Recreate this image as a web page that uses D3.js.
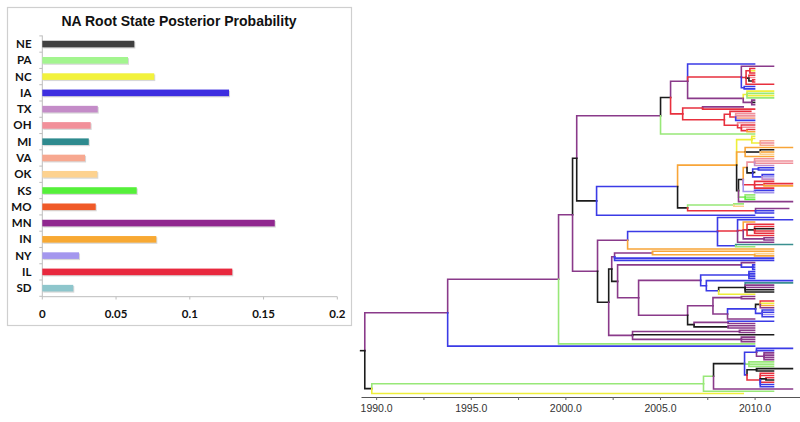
<!DOCTYPE html>
<html><head><meta charset="utf-8">
<script src="https://cdn.jsdelivr.net/npm/d3@7"></script>
<style>body{margin:0;background:#fff}svg{display:block}</style>
</head><body>
<svg id="c" width="800" height="422"></svg>
<script>
// ---------- bar chart data ----------
const categories = ["NE","PA","NC","IA","TX","OH","MI","VA","OK","KS","MO","MN","IN","NY","IL","SD"];
const probabilities = [0.0624,0.0581,0.0759,0.1266,0.0376,0.0328,0.0315,0.029,0.0373,0.064,0.0362,0.1576,0.0773,0.0249,0.1288,0.021];
const barColors = ["#404040","#a3f58f","#f2f23c","#3d2ee0","#c48cc8","#f2909a","#2e8a8e","#f7a890","#fdd28f","#55f03a","#f05a28","#90278f","#f8a933","#a497ee","#e8283e","#8ec6cc"];
const xTicks = [0,0.05,0.1,0.15,0.2];
const xTickLabels = ["0","0.05","0.1","0.15","0.2"];
const chartTitle = "NA Root State Posterior Probability";

// ---------- tree data ----------
// state letter of each branch, and the state it stands for
const stateLetters = ["M","I","L","K","A","G","Y","O","P","T","V","W","N","X","R","S"];
const stateNames   = ["MN","IA","IL","NE","PA","KS","NC","IN","OH","MI","VA","OK","NY","TX","MO","SD"];
const treeColors   = ["#8a3a8a","#3b3be6","#e8303e","#1c1c1c","#98e878","#5ef040","#eeee3a","#f8a538","#f0909a","#3a9090","#f7a890","#fdd28f","#a497ee","#c48cc8","#f05a28","#8ec6cc"];
const rootStubStart = 1989.18;
const yearTicks = [1990,1992.5,1995,1997.5,2000,2002.5,2005,2007.5,2010];
// Newick-like topology: child list, then branch state letter and node date (year)
const treeNewick = [
"(",
 "(",
  "(",
   "(",
    "(",
     "(",
      "(",
       "(I:2010,",
        "(M:2011,((L:2010,Y:2010,L:2010)L:2009.75,(L:2010,P:2010,(L:2010,L:2010)K:2009.9)K:2009.7,L:2011)L:2009.55,(I:2010,I:2010)I:2009.45)L:2009.3,",
        "((Y:2011,A:2011,Y:2011,A:2011)Y:2009.6,(M:2010,K:2010,M:2010)M:2009.85)M:2009.4",
       ")M:2006.46,",
       "((M:2009.4,L:2010)L:2007.25,((L:2009.8,(P:2010,P:2010,V:2010,I:2010)L:2009.0)L:2008.7,(P:2010,(L:2010,P:2010,(L:2010,O:2010)L:2009.6)L:2009.3)L:2009.1)L:2008.4)L:2006.2",
      ")K:2005.56,",
      "A:2010",
     ")M:2005.03,",
     "(",
      "(",
       "((Y:2010,Y:2010,(V:2011,P:2011,V:2011)Y:2010.3)Y:2009.85,",
        "(O:2012,(K:2011,O:2011,W:2011)K:2010.3,O:2011)O:2009.5,",
        "((((P:2011,P:2012,P:2012,X:2011)P:2010.0,((I:2011,I:2011)I:2010.2,K:2010,(I:2011,N:2011,X:2011)I:2010.4)K:2009.9)O:2009.6,",
          "(L:2011,(L:2012,O:2012)L:2010.5,L:2011)L:2010.0,(I:2011,N:2011)N:2010.0)K:2009.4,",
         "(A:2010,A:2010,G:2010)A:2009.5,M:2012)K:2009.15",
       ")O:2009.05,",
       "((A:2009.4,W:2009.4)A:2008.9,(M:2011.8,I:2011,I:2011)L:2010.05)K:2006.46",
      ")I:2005.93,",
      "I:2010",
     ")K:2001.65",
    ")K:2000.6,",
    "(",
     "(",
      "(I:2011,(I:2012,(O:2010,(L:2011,(L:2011,K:2011,L:2011,L:2011)K:2010.0,L:2011)L:2009.6,(M:2011,M:2011)M:2010.5)L:2009.4,M:2011)L:2009.1,(T:2012,A:2010)I:2009.0)I:2008.04,",
      "O:2011",
     ")M:2003.29,",
     "(",
      "(",
       "((O:2011,(W:2011,O:2011)O:2010)M:2004.6,I:2011,I:2011)M:2002.6,",
       "(",
        "(M:2010,(I:2010,I:2010,I:2010)I:2009.9)M:2009.3,",
        "(",
         "((I:2010,I:2010,I:2010,I:2010)I:2009.7,(I:2012,((T:2012,M:2011,M:2011,K:2011,K:2011)K:2009.5,Y:2010)I:2008.1)I:2007.45)M:2007.15,",
         "(((M:2010,M:2010)M:2009.3,(((L:2011,Y:2011,O:2011,M:2011)K:2010.3,(I:2011,I:2011,N:2011,I:2011)I:2010.4)I:2010.05,M:2010)M:2008.57)M:2007.8,",
          "((I:2011,M:2010)M:2008.6,(M:2010,M:2010)K:2008.6)K:2006.8)M:2006.46",
        ")M:2003.87",
       ")K:2002.76",
      ")K:2002.45,",
      "((M:2010,M:2010)M:2009.2,K:2011,(M:2010,M:2010,M:2010)M:2009.3)M:2003.55",
     ")K:2002.29",
    ")M:2001.7",
   ")M:2000.38,",
   "A:2010",
  ")M:1999.64,",
  "I:2010",
 ")M:1993.78,",
 "(",
  "(",
   "(((I:2012,I:2011,(M:2011,M:2011,M:2011,M:2011)M:2010.5)I:2010.1,(A:2011,A:2011,A:2011)A:2009.7,",
     "((K:2012,K:2011)K:2010.1,(L:2011,L:2011,(L:2011,K:2011)K:2010.6,L:2011,I:2011,I:2011)L:2010.3)I:2009.6)K:2009.47,",
    "M:2012)A:2007.83,",
   "A:2011",
  ")A:2007.3,",
  "Y:2009.4",
 ")K:1989.77",
")K:1989.4"
].join("");

// ---------- parse ----------
function parseTree(s){
  let i=0;
  function node(){
    const n={};
    if(s[i]==="("){
      i++; n.children=[node()];
      while(s[i]===","){ i++; n.children.push(node()); }
      i++; // ')'
    }
    n.c=s[i++]; i++; // letter, ':'
    const j=i; while(i<s.length && /[0-9.]/.test(s[i])) i++;
    n.t=+s.slice(j,i);
    return n;
  }
  return node();
}
const colorOf = d3.scaleOrdinal(stateLetters, treeColors);

const svg = d3.select("#c");

// ---------- bar chart ----------
svg.append("rect").attr("x",7.5).attr("y",7.5).attr("width",344).attr("height",318)
  .attr("fill","#fff").attr("stroke","#cfcfcf").attr("stroke-width",1.2);
svg.append("text").attr("x",179).attr("y",26).attr("text-anchor","middle")
  .attr("font-family","'Liberation Sans',Arial,sans-serif").attr("font-weight","bold")
  .attr("font-size",14).attr("fill","#111").text(chartTitle);

const bx = d3.scaleLinear().domain([0,0.2]).range([42.3,337.3]);
const by = d3.scaleBand().domain(categories).range([35.9,296.3]);
const bg = svg.append("g");
// axis lines
bg.append("line").attr("x1",bx(0)).attr("x2",bx(0)).attr("y1",35.5).attr("y2",296.7).attr("stroke","#bdbdbd").attr("stroke-width",1);
bg.append("line").attr("x1",bx(0)).attr("x2",bx(0.2)).attr("y1",296.7).attr("y2",296.7).attr("stroke","#bdbdbd").attr("stroke-width",1);
// y tick marks at band boundaries
const bounds = categories.map(c=>by(c)).concat([by.range()[1]]);
bg.selectAll(".yt").data(bounds).join("line").attr("x1",bx(0)-3).attr("x2",bx(0))
  .attr("y1",d=>d).attr("y2",d=>d).attr("stroke","#bdbdbd");
bg.selectAll(".xt").data(xTicks).join("line").attr("x1",d=>bx(d)).attr("x2",d=>bx(d))
  .attr("y1",296.7).attr("y2",299.5).attr("stroke","#bdbdbd");
// shadows + bars
const barH = 6.6;
bg.selectAll(".sh").data(probabilities).join("rect")
  .attr("x",bx(0)+1).attr("y",(d,i)=>by(categories[i])+by.bandwidth()/2-barH/2+1.2)
  .attr("width",d=>bx(d)-bx(0)).attr("height",barH).attr("fill","#d8d8d8");
bg.selectAll(".bar").data(probabilities).join("rect")
  .attr("x",bx(0)).attr("y",(d,i)=>by(categories[i])+by.bandwidth()/2-barH/2)
  .attr("width",d=>bx(d)-bx(0)).attr("height",barH).attr("fill",(d,i)=>barColors[i]);
bg.selectAll(".cl").data(categories).join("text")
  .attr("x",31.5).attr("y",d=>by(d)+by.bandwidth()/2+4)
  .attr("text-anchor","end").attr("font-family","Lato,'Liberation Sans',sans-serif")
  .attr("font-weight","bold").attr("font-size",11.5).attr("fill","#111").text(d=>d);
bg.selectAll(".xl").data(xTicks).join("text")
  .attr("x",d=>bx(d)).attr("y",318).attr("text-anchor","middle")
  .attr("font-family","Lato,'Liberation Sans',sans-serif")
  .attr("font-weight","bold").attr("font-size",11.5).attr("fill","#111").text((d,i)=>xTickLabels[i]);

// ---------- tree ----------
const root = d3.hierarchy(parseTree(treeNewick));
const leaves = root.leaves();
const ty = d3.scaleLinear().domain([0,leaves.length-1]).range([64,393.5]);
const tx = d3.scaleLinear().domain([1989.2,2012.4]).range([361,800]);
leaves.forEach((l,i)=>{ l.yy = ty(i); });
root.eachAfter(n=>{ if(n.children){ n.yy=(n.children[0].yy+n.children[n.children.length-1].yy)/2; } });

svg.append("clipPath").attr("id","tc").append("rect").attr("x",355).attr("y",0).attr("width",445).attr("height",396);
const tg = svg.append("g").attr("clip-path","url(#tc)").attr("fill","none")
  .attr("stroke-width",1.6).attr("stroke-linecap","square");
tg.append("path").attr("d",`M${tx(rootStubStart)},${root.yy}H${tx(root.data.t)}`).attr("stroke",colorOf(root.data.c));
tg.selectAll(".lk").data(root.links()).join("path")
  .attr("d",l=>`M${tx(l.source.data.t)},${l.source.yy}V${l.target.yy}H${tx(l.target.data.t)}`)
  .attr("stroke",l=>colorOf(l.target.data.c));

// time axis
const ax = svg.append("g").attr("transform","translate(0,397)")
  .call(d3.axisBottom(tx).tickValues(yearTicks).tickSize(3).tickSizeOuter(0)
    .tickFormat(d=> d%5===0 ? d3.format(".1f")(d) : ""));
ax.select(".domain").attr("stroke","#555");
ax.selectAll(".tick line").attr("stroke","#666");
ax.selectAll(".tick text").attr("font-family","'Liberation Sans',Arial,sans-serif").attr("font-size",10.5).attr("fill","#333").attr("dy","0.9em");
</script>
</body></html>
